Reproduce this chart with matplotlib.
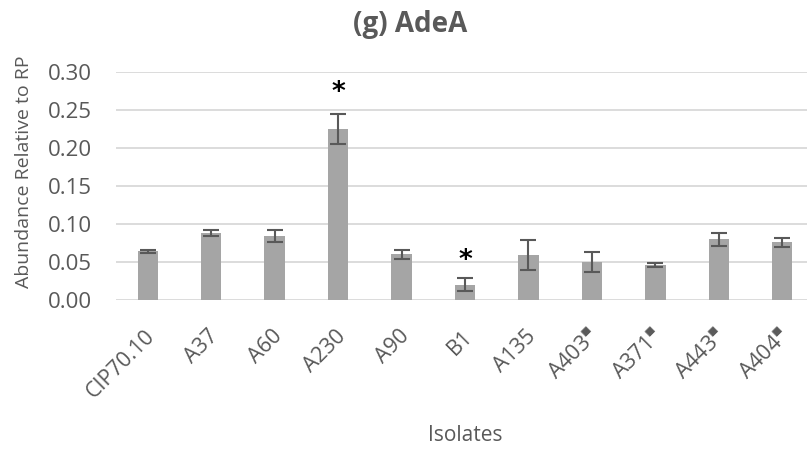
import numpy as np
import matplotlib.pyplot as plt
from matplotlib.transforms import ScaledTranslation

plt.rcParams['font.family'] = ['Open Sans', 'DejaVu Sans']
plt.rcParams['mathtext.fontset'] = 'dejavusans'

isolates = ['CIP70.10', 'A37', 'A60', 'A230', 'A90', 'B1', 'A135',
            'A403$^{▪}$', 'A371$^{▪}$', 'A443$^{▪}$', 'A404$^{▪}$']
abundance = [0.064, 0.088, 0.084, 0.225, 0.060, 0.020, 0.059, 0.050, 0.046, 0.080, 0.076]
errors = [0.002, 0.004, 0.0077, 0.020, 0.0063, 0.0083, 0.0193, 0.0125, 0.003, 0.0083, 0.0057]
star_idx = [3, 5]
star_y = [0.273, 0.051]

grey_txt = '#595959'

fig = plt.figure(figsize=(8.07, 4.51), dpi=100)
ax = fig.add_axes([0.1437, 0.3348, 0.8650, 0.5056])

x = np.arange(len(isolates))
ax.bar(x, abundance, width=0.32, color='#a5a5a5', zorder=2)
ax.errorbar(x, abundance, yerr=errors, fmt='none', ecolor=grey_txt,
            elinewidth=1.5, capsize=5.5, capthick=1.5, zorder=3)

for i, sy in zip(star_idx, star_y):
    ax.text(x[i], sy, '*', ha='center', va='center', fontsize=19,
            fontweight='bold', color='black', family='DejaVu Sans')

ax.set_ylim(0, 0.30)
ax.set_xlim(-0.5, len(isolates) - 0.5)
ax.set_yticks(np.arange(0, 0.31, 0.05))
ax.set_yticklabels([f'{v:.2f}' for v in np.arange(0, 0.31, 0.05)])
ax.yaxis.grid(True, color='#d9d9d9', linewidth=1.3, zorder=0)
ax.set_axisbelow(True)
for s in ax.spines.values():
    s.set_visible(False)
ax.tick_params(axis='both', length=0, colors=grey_txt)
ax.tick_params(axis='y', pad=17, labelsize=16)
ax.tick_params(axis='x', labelsize=15.5)

ax.set_xticks(x)
ax.set_xticklabels(isolates, rotation=45, ha='right', va='top',
                   rotation_mode='anchor')
for lbl in ax.get_xticklabels():
    lbl.set_transform(lbl.get_transform() + ScaledTranslation(-0.03, -0.21, fig.dpi_scale_trans))

fig.text(0.030, 0.620, 'Abundance Relative to RP', rotation=90, ha='center',
         va='center', fontsize=14, color=grey_txt)
fig.text(0.576, 0.035, 'Isolates', ha='center', va='center', fontsize=15, color=grey_txt)
fig.text(0.508, 0.945, '(g) AdeA', ha='center', va='center', fontsize=20,
         fontweight='bold', color=grey_txt)

fig.savefig('out.png', dpi=100)
